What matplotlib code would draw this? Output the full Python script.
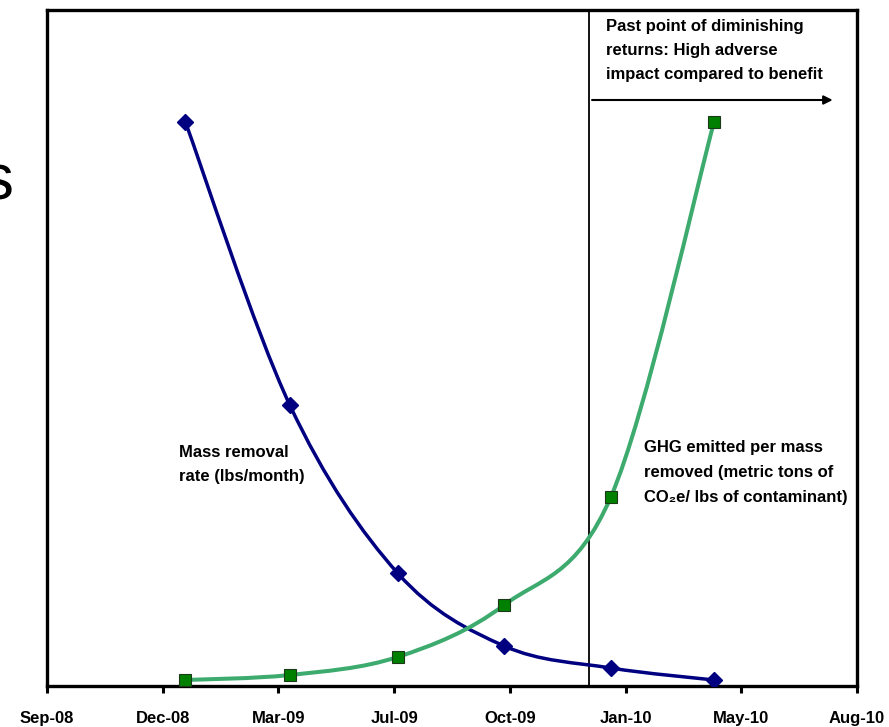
import datetime as dt
import matplotlib
matplotlib.use("Agg")
import matplotlib.pyplot as plt
import matplotlib.dates as mdates
from matplotlib.path import Path
from matplotlib.patches import PathPatch

plt.rcParams['font.family'] = ['Liberation Sans', 'DejaVu Sans']

# sampling dates and the two series (no y scale on the original, units arbitrary)
dates = ["2009-01-01", "2009-04-03", "2009-07-07", "2009-10-09", "2010-01-11", "2010-04-12"]
mass_removal = [564, 281, 113, 40, 18, 6]
ghg_per_mass = [6, 11, 29, 81, 189, 564]

tick_labels = ["Sep-08", "Dec-08", "Mar-09", "Jul-09", "Oct-09", "Jan-10", "May-10", "Aug-10"]
cutoff_date = "2009-12-23"

x = [mdates.date2num(dt.date.fromisoformat(d)) for d in dates]
x0 = mdates.date2num(dt.date(2008, 9, 1))
step = 102
ticks = [x0 + step * i for i in range(len(tick_labels))]


def smooth_path(xs, ys):
    # excel style smoothed line as cubic bezier segments
    pts = list(zip(xs, ys))
    verts = [pts[0]]
    codes = [Path.MOVETO]
    n = len(pts)
    for i in range(n - 1):
        p0 = pts[max(i - 1, 0)]
        p1 = pts[i]
        p2 = pts[i + 1]
        p3 = pts[min(i + 2, n - 1)]
        c1 = (p1[0] + (p2[0] - p0[0]) / 6, p1[1] + (p2[1] - p0[1]) / 6)
        c2 = (p2[0] - (p3[0] - p1[0]) / 6, p2[1] - (p3[1] - p1[1]) / 6)
        verts += [c1, c2, p2]
        codes += [Path.CURVE4] * 3
    return Path(verts, codes)


fig = plt.figure(figsize=(8.89, 7.27), dpi=100)
ax = fig.add_axes([47 / 889, 41 / 727, 810 / 889, 676 / 727])

ax.add_patch(PathPatch(smooth_path(x, mass_removal), fill=False, color="#000080", lw=2.5, zorder=3))
ax.add_patch(PathPatch(smooth_path(x, ghg_per_mass), fill=False, color="#3DAA6E", lw=2.9, zorder=3))
ax.plot(x, mass_removal, ls="none", marker="D", ms=8.5, color="#000080", zorder=4)
ax.plot(x, ghg_per_mass, ls="none", marker="s", ms=9, markerfacecolor="#008000",
        markeredgecolor="#1a3a1a", mew=0.8, zorder=4)

cut = mdates.date2num(dt.date.fromisoformat(cutoff_date))
ax.axvline(cut, color="black", lw=1.3, zorder=2)
ax.annotate("", xy=(x0 + 695, 586), xytext=(cut, 586),
            arrowprops=dict(arrowstyle="-|>", color="black", lw=1.5, mutation_scale=13))

txt = dict(fontsize=12, fontweight="bold", va="top", ha="left")
ax.text(x0 + 493, 667, "Past point of diminishing\nreturns: High adverse\nimpact compared to benefit",
        linespacing=1.75, **txt)
ax.text(x0 + 116, 241, "Mass removal\nrate (lbs/month)", linespacing=1.72, **txt)
ax.text(x0 + 526, 246, "GHG emitted per mass\nremoved (metric tons of\nCO\u2082e/ lbs of contaminant)",
        linespacing=1.85, **txt)

ax.set_xlim(ticks[0], ticks[-1])
ax.set_ylim(0, 676)
ax.set_xticks(ticks)
ax.set_xticklabels(tick_labels, fontsize=12, fontweight="bold")
ax.set_yticks([])
ax.tick_params(axis="x", direction="out", length=5, width=2.2, pad=13)
for s in ax.spines.values():
    s.set_linewidth(2.4)

# cropped slide title letter on the far left
fig.text(13 / 889, 1 - 182 / 727, "s", fontsize=46, ha="right", va="center", family="Liberation Sans")

fig.savefig("out.png", dpi=100)
